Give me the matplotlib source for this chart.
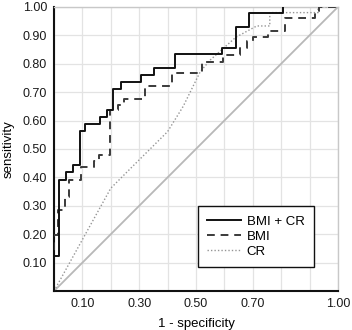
import matplotlib
matplotlib.use("Agg")
import matplotlib.pyplot as plt
from matplotlib.ticker import MultipleLocator

plt.rcParams['font.family'] = ['Liberation Sans', 'DejaVu Sans']

# ROC curves (1 - specificity, sensitivity)
combo_x = [0, 0, 0.019, 0.019, 0.042, 0.042, 0.068, 0.068, 0.092, 0.092, 0.11, 0.11, 0.162, 0.162,
           0.185, 0.185, 0.209, 0.209, 0.235, 0.235, 0.305, 0.305, 0.353, 0.353, 0.426, 0.426,
           0.59, 0.59, 0.64, 0.64, 0.688, 0.688, 0.805, 0.805]
combo_y = [0, 0.123, 0.123, 0.391, 0.391, 0.418, 0.418, 0.444, 0.444, 0.563, 0.563, 0.589, 0.589, 0.613,
           0.613, 0.637, 0.637, 0.71, 0.71, 0.737, 0.737, 0.76, 0.76, 0.784, 0.784, 0.833,
           0.833, 0.857, 0.857, 0.931, 0.931, 0.98, 0.98, 1.0]

bmi_x = [0, 0, 0.015, 0.015, 0.04, 0.04, 0.054, 0.054, 0.095, 0.095, 0.14, 0.14, 0.16, 0.16,
         0.197, 0.197, 0.225, 0.225, 0.245, 0.245, 0.32, 0.32, 0.417, 0.417, 0.52, 0.52,
         0.596, 0.596, 0.655, 0.655, 0.68, 0.68, 0.7, 0.7, 0.755, 0.755, 0.815, 0.815,
         0.92, 0.92, 0.935, 0.935, 1.0]
bmi_y = [0, 0.197, 0.197, 0.285, 0.285, 0.33, 0.33, 0.391, 0.391, 0.437, 0.437, 0.459, 0.459, 0.479,
         0.479, 0.637, 0.637, 0.655, 0.655, 0.675, 0.675, 0.72, 0.72, 0.767, 0.767, 0.807,
         0.807, 0.831, 0.831, 0.855, 0.855, 0.88, 0.88, 0.895, 0.895, 0.917, 0.917, 0.96,
         0.96, 0.985, 0.985, 1.0, 1.0]

cr_x = [0, 0.2, 0.27, 0.4, 0.455, 0.515, 0.55, 0.64, 0.714, 0.76, 0.76, 0.93, 0.93, 1.0]
cr_y = [0, 0.362, 0.432, 0.561, 0.65, 0.772, 0.813, 0.893, 0.933, 0.933, 0.98, 0.98, 1.0, 1.0]

xtick_vals = [0.10, 0.30, 0.50, 0.70, 1.00]
ytick_vals = [0.10, 0.20, 0.30, 0.40, 0.50, 0.60, 0.70, 0.80, 0.90, 1.00]

fig = plt.figure(figsize=(3.52, 3.30), dpi=100)
ax = fig.add_axes([0.1534, 0.118, 0.8066, 0.861])

ax.plot([0, 1], [0, 1], color='#b8b8b8', lw=1.3, zorder=2)
ax.plot(cr_x, cr_y, color='#959595', lw=1.0, ls=(0, (1, 1.5)), label='CR', zorder=3)
ax.plot(bmi_x, bmi_y, color='#3a3a3a', lw=1.4, ls=(0, (4, 3)), label='BMI', zorder=4)
ax.plot(combo_x, combo_y, color='#111111', lw=1.4, label='BMI + CR', zorder=5)

ax.set_xlim(0, 1)
ax.set_ylim(0, 1)
ax.set_xticks(xtick_vals)
ax.set_xticklabels(['%.2f' % v for v in xtick_vals])
ax.set_yticks(ytick_vals)
ax.set_yticklabels(['%.2f' % v for v in ytick_vals])
ax.xaxis.set_minor_locator(MultipleLocator(0.1))
ax.yaxis.set_minor_locator(MultipleLocator(0.1))
ax.grid(True, which='both', color='#e3e3e3', lw=0.9, zorder=0)
ax.set_axisbelow(True)
ax.tick_params(which='both', length=0, labelsize=9, colors='#1a1a1a', pad=5)

for s in ['left', 'bottom']:
    ax.spines[s].set_color('#111111')
    ax.spines[s].set_linewidth(1.5)
for s in ['top', 'right']:
    ax.spines[s].set_color('#c8c8c8')
    ax.spines[s].set_linewidth(1.0)

ax.set_xlabel('1 - specificity', fontsize=9.5, labelpad=6)
ax.set_ylabel('sensitivity', fontsize=9.5, labelpad=6)

handles, labels = ax.get_legend_handles_labels()
order = [2, 1, 0]
leg = ax.legend([handles[i] for i in order], [labels[i] for i in order],
                loc='lower right', bbox_to_anchor=(0.915, 0.085), borderaxespad=0,
                fontsize=9.5, fancybox=False, edgecolor='#111111', framealpha=1,
                handlelength=2.6, handletextpad=0.4, borderpad=0.7, labelspacing=0.2)
leg.get_frame().set_linewidth(1.0)

fig.savefig('out.png', dpi=100)
